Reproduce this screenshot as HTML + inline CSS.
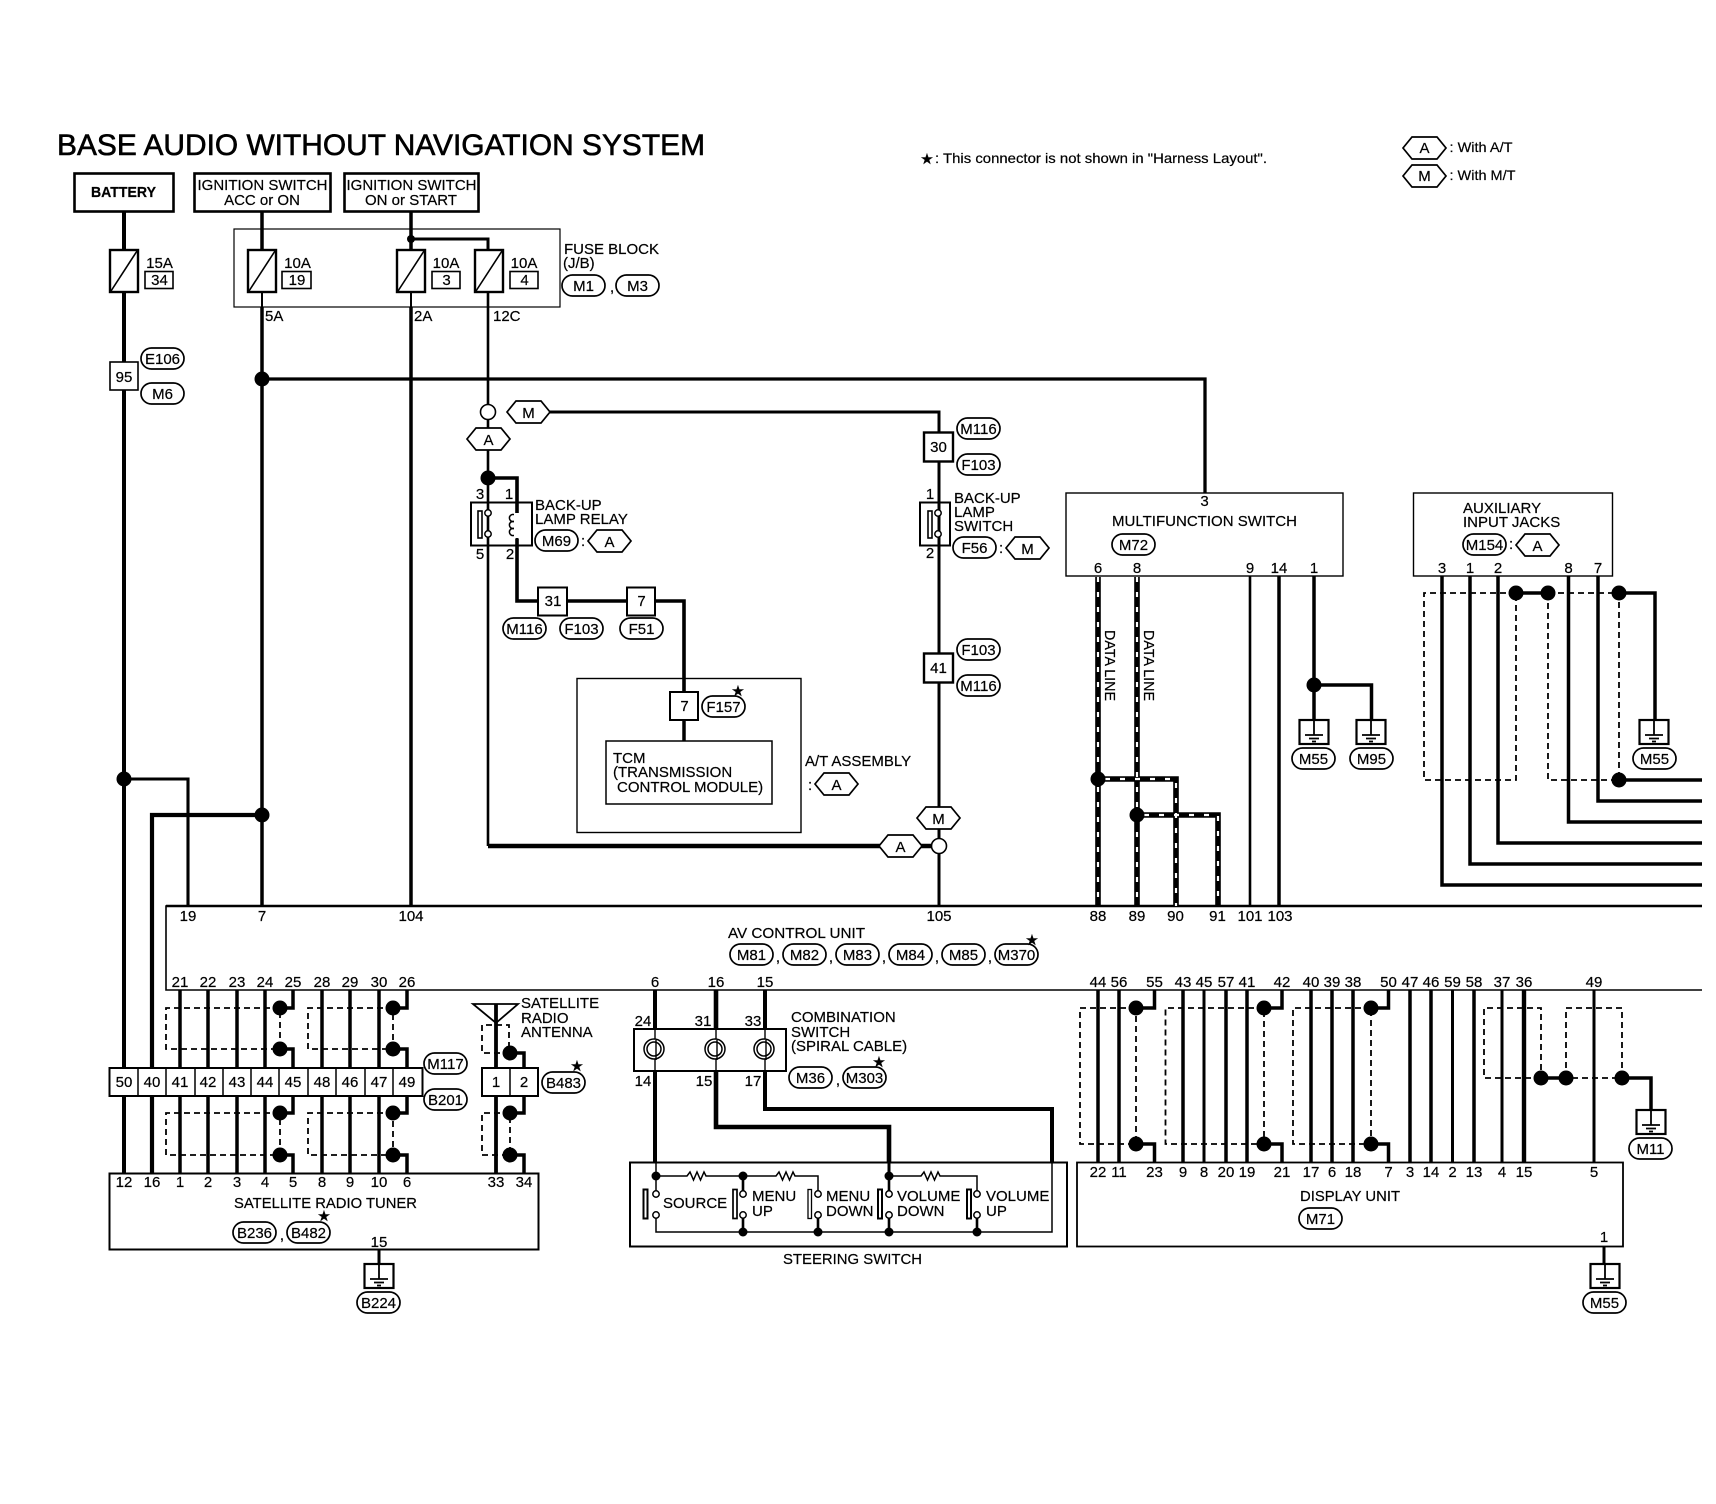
<!DOCTYPE html>
<html><head><meta charset="utf-8"><style>
html,body{margin:0;padding:0;background:#fff}
svg{display:block}
text{font-family:"Liberation Sans",sans-serif;font-size:15px;fill:#000;stroke:#000;stroke-width:.2}
.c text,text.c{text-anchor:middle}
.n{fill:#000;stroke:none}
.o{fill:#fff;stroke:#000;stroke-width:1.6}
.s{fill:none;stroke:#000;stroke-width:1.8;stroke-dasharray:6 4}
</style></head><body>
<svg width="1716" height="1504" viewBox="0 0 1716 1504" xmlns="http://www.w3.org/2000/svg">
<defs>
<rect id="p" width="43" height="21" rx="10.5" fill="#fff" stroke="#000" stroke-width="1.7"/>
<polygon id="h" points="0,11 9,0 34,0 43,11 34,22 9,22" fill="#fff" stroke="#000" stroke-width="1.7"/>
<g id="g"><rect x="-14.5" y="0" width="29" height="24" fill="#fff" stroke="#000" stroke-width="2.2"/><path d="M0 0V15M-9 15H9M-5 18.5H5M-2 21.5H2" fill="none" stroke="#000" stroke-width="1.8"/></g>
<g id="f"><rect width="28" height="42" fill="#fff" stroke="#000" stroke-width="2.4"/><path d="M1 41L27 1" stroke="#000" stroke-width="1.6"/></g>
<circle id="d" r="7.5" fill="#000"/>
<circle id="k" r="3.2" fill="#fff" stroke="#000" stroke-width="1.5"/>
<circle id="e" r="4.5" fill="#000"/>
<g id="sp"><circle r="10" fill="#fff" stroke="#000" stroke-width="1.5"/><circle r="7" fill="none" stroke="#000" stroke-width="1.5"/></g>
</defs>

<!-- boxes -->
<g fill="none" stroke="#000">
<rect x="74.5" y="173.5" width="99" height="38" stroke-width="2.6"/>
<rect x="194.5" y="173.5" width="136" height="38" stroke-width="2.6"/>
<rect x="344.5" y="173.5" width="134" height="38" stroke-width="2.6"/>
<rect x="234" y="229" width="326" height="78" stroke-width="1.2"/>
<rect x="577" y="678.5" width="224" height="154" stroke-width="1.4"/>
<rect x="606" y="741" width="166" height="63" stroke-width="1.5"/>
<rect x="1066" y="493" width="277" height="83" stroke-width="1.4"/>
<rect x="1413.5" y="493" width="199" height="83" stroke-width="1.4"/>
<rect x="109.5" y="1173.5" width="429" height="76" stroke-width="2"/>
<rect x="630" y="1162.5" width="437" height="84" stroke-width="2"/>
<rect x="1077" y="1162.5" width="546" height="84" stroke-width="1.8"/>
<path d="M1702 906H166V990H1702" stroke-width="1.6"/>
<path d="M166 906H1702" stroke-width="2.6"/>
</g>

<!-- main wires -->
<g fill="none" stroke="#000" stroke-width="3.5">
<path d="M124 212V1173" stroke-width="4"/>
<path d="M262 212V250M262 307V906"/>
<path d="M262 292V307M411 292V307" stroke-width="2"/>
<path d="M411 212V250M411 307V906"/>
<path d="M411 239H488V250" stroke-width="3"/>
<path d="M488 292V846" stroke-width="2.6"/>
<path d="M262 379H1205V493" stroke-width="3.3"/>
<path d="M488 478H517V601H538" stroke-width="3.6"/>
<path d="M567 601H627M655 601H684V692" stroke-width="3.6"/>
<path d="M684 720V741"/>
<path d="M488 846H939" stroke-width="4.6"/>
<path d="M507 412H939V905" stroke-width="3"/>
<path d="M124 779H188V906" stroke-width="3.1"/>
<path d="M262 815H152V1173" stroke-width="4.2"/>
<path d="M1250 576V906" stroke-width="2.6"/>
<path d="M1279 576V906"/>
<path d="M1314 576V720"/>
<path d="M1314 685H1371.5V720"/>
<path d="M1442 576V885H1702M1470 576V864H1702M1498 576V843H1702M1568.5 576V822H1702M1598 576V801H1702"/>
<path d="M1619 593H1655V720M1619 780H1702M1516 593H1548"/>

<!-- tuner harness -->
<path d="M180 990V1173M208 990V1173M237 990V1173M265 990V1173M322 990V1173M350 990V1173M379 990V1173"/>
<path d="M293 990V1008H280M280 1049H293V1068M293 1096V1113H280M280 1155H293V1173"/>
<path d="M407 990V1008H393M393 1049H407V1068M407 1096V1113H393M393 1155H407V1173"/>
<path d="M496 1004V1173" stroke-width="3.8"/>
<path d="M510 1053H524V1068M524 1096V1113H510M510 1155H524V1173"/>
<path d="M379 1250V1278" stroke-width="3"/>

<!-- combination -->
<path d="M655 990V1029M655 1071V1162M765 990V1029" stroke-width="4"/>
<path d="M716 990V1029" stroke-width="4.6"/>
<path d="M716 1071V1127H889V1162" stroke-width="4.6"/>
<path d="M765 1071V1109H1052V1162" stroke-width="4"/>
<path d="M655 1029V1071M716 1029V1071M765 1029V1071" stroke-width="1.4"/>

<!-- display -->
<path d="M1098 990V1162M1119 990V1162M1183 990V1162M1226 990V1162M1247 990V1162M1311 990V1162M1332 990V1162M1353 990V1162M1410 990V1162M1431 990V1162M1474 990V1162"/>
<path d="M1204 990V1162M1452.5 990V1162M1502 990V1162M1594 990V1162" stroke-width="3"/>
<path d="M1524 990V1162" stroke-width="4.4"/>
<path d="M1154.5 990V1008H1136M1136 1144H1154.5V1162"/>
<path d="M1282 990V1008H1264M1264 1144H1282V1162"/>
<path d="M1388.5 990V1008H1371M1371 1144H1388.5V1162"/>
<path d="M1541 1078H1566M1622 1078H1651V1109"/>
<path d="M1604 1246V1264" stroke-width="3"/>
</g>

<!-- data lines -->
<g fill="none" stroke="#000" stroke-width="5.6">
<path d="M1098 577V906M1137 577V906M1098 779H1176V906M1137 815H1218V906"/>
</g>
<g fill="none" stroke="#fff" stroke-width="2.2" stroke-dasharray="5 10">
<path d="M1098 577V906M1137 577V906M1105 779H1176V906M1144 815H1218V906"/>
</g>

<!-- shields -->
<g class="s">
<path d="M1516 593H1424V780H1516V593"/>
<path d="M1548 593V780H1619V593H1548"/>
<path d="M280 1008H166V1049H280V1008"/><path d="M393 1008H308V1049H393V1008"/>
<path d="M280 1113H166V1155H280V1113"/><path d="M393 1113H308V1155H393V1113"/>
<path d="M510 1053H482V1025H509V1053"/>
<path d="M510 1113H482V1155H510V1113"/>
<path d="M1136 1008H1080V1144H1136V1008"/>
<path d="M1264 1008H1165.5V1144H1264V1008"/>
<path d="M1371 1008H1293V1144H1371V1008"/>
<path d="M1541 1078H1484V1008H1541V1078"/>
<path d="M1566 1078V1008H1622V1078H1566"/>
</g>

<!-- nodes -->
<g>
<circle cx="411" cy="239" r="4" fill="#000"/>
<use href="#d" x="262" y="379"/><use href="#d" x="488" y="478"/><use href="#d" x="124" y="779"/><use href="#d" x="262" y="815"/>
<use href="#d" x="1098" y="779"/><use href="#d" x="1137" y="815"/><use href="#d" x="1314" y="685"/>
<use href="#d" x="1516" y="593"/><use href="#d" x="1548" y="593"/><use href="#d" x="1619" y="593"/><use href="#d" x="1619" y="780"/>
<use href="#d" x="280" y="1008"/><use href="#d" x="280" y="1049"/><use href="#d" x="280" y="1113"/><use href="#d" x="280" y="1155"/>
<use href="#d" x="393" y="1008"/><use href="#d" x="393" y="1049"/><use href="#d" x="393" y="1113"/><use href="#d" x="393" y="1155"/>
<use href="#d" x="510" y="1053"/><use href="#d" x="510" y="1113"/><use href="#d" x="510" y="1155"/>
<use href="#d" x="1136" y="1008"/><use href="#d" x="1136" y="1144"/><use href="#d" x="1264" y="1008"/><use href="#d" x="1264" y="1144"/><use href="#d" x="1371" y="1008"/><use href="#d" x="1371" y="1144"/>
<use href="#d" x="1541" y="1078"/><use href="#d" x="1566" y="1078"/><use href="#d" x="1622" y="1078"/>
</g>
<ellipse cx="488" cy="412" rx="7.5" ry="7.5" class="o"/>
<ellipse cx="939" cy="846" rx="7.5" ry="7.5" class="o"/>

<!-- fuses -->
<use href="#f" x="110" y="250"/><use href="#f" x="248" y="250"/><use href="#f" x="397" y="250"/><use href="#f" x="475" y="250"/>
<g class="o" stroke-width="1.3">
<rect x="145" y="271.5" width="28" height="17"/><rect x="282" y="271.5" width="29" height="17"/><rect x="432" y="271.5" width="28" height="17"/><rect x="510" y="271.5" width="28" height="17"/>
<rect x="110" y="362" width="28" height="28"/>
<rect x="924" y="432.5" width="29" height="29" style="stroke-width:2.4"/>
<rect x="924" y="653.5" width="29" height="29" style="stroke-width:2.4"/>
<rect x="538" y="587.5" width="29" height="28" style="stroke-width:2"/>
<rect x="627" y="587.5" width="28" height="28" style="stroke-width:2"/>
<rect x="670" y="692" width="28" height="28" style="stroke-width:2"/>
</g>

<!-- relay and lamp switch -->
<g fill="none" stroke="#000" stroke-width="2">
<rect x="471" y="502.5" width="61" height="43" fill="none"/>
<rect x="920" y="502.5" width="30" height="43"/>
<rect x="478" y="511" width="4" height="27" stroke-width="1.6"/>
<rect x="928" y="511" width="4" height="27" stroke-width="1.6"/>
<g stroke-width="1.5"><circle cx="513" cy="518" r="3.6"/><circle cx="513" cy="525" r="3.6"/><circle cx="513" cy="532" r="3.6"/></g>
</g>
<rect x="514" y="513" width="6" height="26" fill="#fff" stroke="none"/>
<path d="M517 500V513M517 538V546" stroke="#000" stroke-width="3" fill="none"/>
<use href="#k" x="488" y="513"/><use href="#k" x="488" y="534"/>
<use href="#k" x="938" y="513"/><use href="#k" x="938" y="534"/>

<!-- connector row -->
<g fill="#fff" stroke="#000" stroke-width="2">
<rect x="109.5" y="1068" width="313" height="28"/>
<rect x="482" y="1068" width="56" height="28"/>
</g>
<path d="M138 1068V1096M166 1068V1096M195 1068V1096M223 1068V1096M251 1068V1096M279 1068V1096M308 1068V1096M336 1068V1096M365 1068V1096M393 1068V1096M510 1068V1096" stroke="#000" stroke-width="1.5"/>

<!-- antenna -->
<path d="M473 1004H518L496 1023Z" fill="none" stroke="#000" stroke-width="1.8"/>

<!-- combination switch -->
<rect x="634" y="1029" width="152" height="42" fill="none" stroke="#000" stroke-width="2"/>
<use href="#sp" x="654" y="1049"/><use href="#sp" x="715" y="1049"/><use href="#sp" x="764" y="1049"/>
<path d="M656 1040V1060M717 1040V1060M766 1040V1060" stroke="#000" stroke-width="1.4"/>

<!-- steering switch -->
<g fill="none" stroke="#000" stroke-width="1.5">
<path d="M656 1162V1191"/>
<path d="M656 1176H687l3-4l3.5 8l3.5-8l3.5 8l3.5-8l2 4H743"/>
<path d="M743 1176H776l3-4l3.5 8l3.5-8l3.5 8l3.5-8l2 4H818V1191"/>
<path d="M889 1176H921l3-4l3.5 8l3.5-8l3.5 8l3.5-8l2 4H977V1191"/>
<path d="M656 1215V1232H1052V1162"/>
<path d="M889 1162V1176" stroke-width="3"/>
<path d="M743 1176V1191M889 1176V1191M743 1218V1232M818 1218V1232M889 1218V1232M977 1218V1232" stroke-width="2.6"/>
<rect x="643.5" y="1189.5" width="4" height="29" stroke-width="2"/>
<rect x="733" y="1189.5" width="4" height="29" stroke-width="1.7"/>
<rect x="808" y="1189.5" width="3.5" height="29" stroke-width="1.3"/>
<rect x="878" y="1189.5" width="4" height="29" stroke-width="2"/>
<rect x="967" y="1189.5" width="4" height="29" stroke-width="2"/>
</g>
<use href="#e" x="656" y="1176"/><use href="#e" x="743" y="1176"/><use href="#e" x="889" y="1176"/>
<use href="#e" x="743" y="1232"/><use href="#e" x="818" y="1232"/><use href="#e" x="889" y="1232"/><use href="#e" x="977" y="1232"/>
<use href="#k" x="656" y="1194"/><use href="#k" x="656" y="1215"/><use href="#k" x="743" y="1194"/><use href="#k" x="743" y="1215"/><use href="#k" x="818" y="1194"/><use href="#k" x="818" y="1215"/><use href="#k" x="889" y="1194"/><use href="#k" x="889" y="1215"/><use href="#k" x="977" y="1194"/><use href="#k" x="977" y="1215"/>

<!-- grounds -->
<use href="#g" x="1314" y="720"/><use href="#g" x="1371" y="720"/><use href="#g" x="1654" y="720"/>
<use href="#g" x="379" y="1264"/><use href="#g" x="1651" y="1110"/><use href="#g" x="1605" y="1264"/>

<!-- pills -->
<use href="#p" x="562" y="275"/><use href="#p" x="616" y="275"/>
<use href="#p" x="141" y="348"/><use href="#p" x="141" y="383"/>
<use href="#p" x="957" y="418"/><use href="#p" x="957" y="454"/>
<use href="#p" x="535" y="530"/><use href="#p" x="953" y="537"/>
<use href="#p" x="1112" y="534"/><use href="#p" x="1463" y="534"/>
<use href="#p" x="503" y="618"/><use href="#p" x="560" y="618"/><use href="#p" x="620" y="618"/>
<use href="#p" x="702" y="696"/>
<use href="#p" x="957" y="639"/><use href="#p" x="957" y="675"/>
<use href="#p" x="1292" y="748"/><use href="#p" x="1350" y="748"/><use href="#p" x="1633" y="748"/>
<use href="#p" x="730" y="944"/><use href="#p" x="783" y="944"/><use href="#p" x="836" y="944"/><use href="#p" x="889" y="944"/><use href="#p" x="942" y="944"/><use href="#p" x="995" y="944"/>
<use href="#p" x="424" y="1053"/><use href="#p" x="424" y="1089"/><use href="#p" x="542" y="1072"/>
<use href="#p" x="233" y="1222"/><use href="#p" x="287" y="1222"/><use href="#p" x="357" y="1292"/>
<use href="#p" x="789" y="1067"/><use href="#p" x="843" y="1067"/>
<use href="#p" x="1299" y="1208"/><use href="#p" x="1629" y="1138"/><use href="#p" x="1583" y="1292"/>

<!-- hexes -->
<use href="#h" x="507" y="401"/><use href="#h" x="467" y="428"/>
<use href="#h" x="588" y="530"/><use href="#h" x="1006" y="537"/><use href="#h" x="1516" y="534"/>
<use href="#h" x="815" y="773"/><use href="#h" x="917" y="807"/><use href="#h" x="879" y="835"/>
<use href="#h" x="1403" y="137"/><use href="#h" x="1403" y="165"/>

<!-- text -->
<text x="57" y="155" style="font-size:30px;stroke-width:.6" textLength="648" lengthAdjust="spacingAndGlyphs">BASE AUDIO WITHOUT NAVIGATION SYSTEM</text>
<text x="927" y="164" class="c" style="font-size:15px;font-family:'DejaVu Sans',sans-serif">★</text>
<text x="935" y="163" style="font-size:14px" textLength="332" lengthAdjust="spacingAndGlyphs">: This connector is not shown in "Harness Layout".</text>
<text x="1449.5" y="152" textLength="63" lengthAdjust="spacingAndGlyphs" style="font-size:14px">: With A/T</text>
<text x="1449.5" y="180" textLength="66" lengthAdjust="spacingAndGlyphs" style="font-size:14px">: With M/T</text>
<g class="c">
<text x="1424.5" y="153">A</text><text x="1424.5" y="181">M</text>
<text x="123.5" y="197" style="font-size:15px;font-weight:bold" textLength="65" lengthAdjust="spacingAndGlyphs">BATTERY</text>
<text x="262.5" y="190">IGNITION SWITCH</text><text x="262" y="205">ACC or ON</text>
<text x="411.5" y="190">IGNITION SWITCH</text><text x="411" y="205">ON or START</text>
<text x="159.5" y="268">15A</text><text x="159.5" y="285">34</text>
<text x="297.5" y="268">10A</text><text x="297" y="285">19</text>
<text x="446" y="268">10A</text><text x="446.5" y="285">3</text>
<text x="524" y="268">10A</text><text x="524.5" y="285">4</text>
<text x="124" y="382">95</text>
<text x="583.5" y="291">M1</text><text x="637.5" y="291">M3</text>
<text x="162.5" y="364">E106</text><text x="162.5" y="399">M6</text>
<text x="528.5" y="418">M</text><text x="488.5" y="445">A</text>
<text x="938.5" y="452">30</text><text x="938.5" y="673">41</text>
<text x="978.5" y="434">M116</text><text x="978.5" y="470">F103</text>
<text x="978.5" y="655">F103</text><text x="978.5" y="691">M116</text>
<text x="556.5" y="546">M69</text><text x="609.5" y="547">A</text>
<text x="974.5" y="553">F56</text><text x="1027.5" y="554">M</text>
<text x="1133.5" y="550">M72</text><text x="1484.5" y="550">M154</text><text x="1537.5" y="551">A</text>
<text x="480" y="499">3</text><text x="509" y="499">1</text><text x="480" y="559">5</text><text x="510" y="559">2</text>
<text x="930" y="499">1</text><text x="930" y="558">2</text>
<text x="553" y="606">31</text><text x="641.5" y="606">7</text><text x="684.5" y="711">7</text>
<text x="524.5" y="634">M116</text><text x="581.5" y="634">F103</text><text x="641.5" y="634">F51</text>
<text x="723.5" y="712">F157</text>
<text x="836.5" y="790">A</text><text x="938.5" y="824">M</text><text x="900.5" y="852">A</text>
<text x="188" y="921">19</text><text x="262" y="921">7</text><text x="411" y="921">104</text><text x="939" y="921">105</text>
<text x="1098" y="921">88</text><text x="1137" y="921">89</text><text x="1175.5" y="921">90</text><text x="1217.5" y="921">91</text><text x="1250" y="921">101</text><text x="1280" y="921">103</text>
<text x="1204.5" y="506">3</text>
<text x="1204.5" y="526" textLength="185" lengthAdjust="spacingAndGlyphs">MULTIFUNCTION SWITCH</text>
<text x="1098" y="573">6</text><text x="1137" y="573">8</text><text x="1250" y="573">9</text><text x="1279" y="573">14</text><text x="1314" y="573">1</text>
<text x="1442" y="573">3</text><text x="1470" y="573">1</text><text x="1498" y="573">2</text><text x="1568.5" y="573">8</text><text x="1598" y="573">7</text>
<text x="1313.5" y="764">M55</text><text x="1371.5" y="764">M95</text><text x="1654.5" y="764">M55</text>
<text x="751.5" y="960">M81</text><text x="804.5" y="960">M82</text><text x="857.5" y="960">M83</text><text x="910.5" y="960">M84</text><text x="963.5" y="960">M85</text><text x="1016.5" y="960">M370</text>
<text x="778" y="962">,</text><text x="831" y="962">,</text><text x="884" y="962">,</text><text x="937" y="962">,</text><text x="990" y="962">,</text>

<text x="180" y="987">21</text><text x="208" y="987">22</text><text x="237" y="987">23</text><text x="265" y="987">24</text><text x="293" y="987">25</text><text x="322" y="987">28</text><text x="350" y="987">29</text><text x="379" y="987">30</text><text x="407" y="987">26</text>
<text x="655" y="987">6</text><text x="716" y="987">16</text><text x="765" y="987">15</text>
<text x="1098" y="987">44</text><text x="1119" y="987">56</text><text x="1154.5" y="987">55</text><text x="1183" y="987">43</text><text x="1204" y="987">45</text><text x="1226" y="987">57</text><text x="1247" y="987">41</text><text x="1282" y="987">42</text><text x="1311" y="987">40</text><text x="1332" y="987">39</text><text x="1353" y="987">38</text><text x="1388.5" y="987">50</text><text x="1410" y="987">47</text><text x="1431" y="987">46</text><text x="1452.5" y="987">59</text><text x="1474" y="987">58</text><text x="1502" y="987">37</text><text x="1524" y="987">36</text><text x="1594" y="987">49</text>

<text x="124" y="1087">50</text><text x="152" y="1087">40</text><text x="180" y="1087">41</text><text x="208" y="1087">42</text><text x="237" y="1087">43</text><text x="265" y="1087">44</text><text x="293" y="1087">45</text><text x="322" y="1087">48</text><text x="350" y="1087">46</text><text x="379" y="1087">47</text><text x="407" y="1087">49</text>
<text x="496" y="1087">1</text><text x="524" y="1087">2</text>
<text x="445.5" y="1069">M117</text><text x="445.5" y="1105">B201</text><text x="563.5" y="1088">B483</text>
<text x="124" y="1187">12</text><text x="152" y="1187">16</text><text x="180" y="1187">1</text><text x="208" y="1187">2</text><text x="237" y="1187">3</text><text x="265" y="1187">4</text><text x="293" y="1187">5</text><text x="322" y="1187">8</text><text x="350" y="1187">9</text><text x="379" y="1187">10</text><text x="407" y="1187">6</text><text x="496" y="1187">33</text><text x="524" y="1187">34</text>
<text x="325.5" y="1208" textLength="183" lengthAdjust="spacingAndGlyphs">SATELLITE RADIO TUNER</text>
<text x="254.5" y="1238">B236</text><text x="308.5" y="1238">B482</text><text x="282" y="1240">,</text>
<text x="379" y="1247">15</text><text x="378.5" y="1308">B224</text>
<text x="643" y="1026">24</text><text x="703" y="1026">31</text><text x="753" y="1026">33</text>
<text x="643" y="1086">14</text><text x="704" y="1086">15</text><text x="753" y="1086">17</text>
<text x="810.5" y="1083">M36</text><text x="864.5" y="1083">M303</text><text x="838" y="1085">,</text>
<text x="852.5" y="1264" textLength="139" lengthAdjust="spacingAndGlyphs">STEERING SWITCH</text>

<text x="1098" y="1177">22</text><text x="1119" y="1177">11</text><text x="1154.5" y="1177">23</text><text x="1183" y="1177">9</text><text x="1204" y="1177">8</text><text x="1226" y="1177">20</text><text x="1247" y="1177">19</text><text x="1282" y="1177">21</text><text x="1311" y="1177">17</text><text x="1332" y="1177">6</text><text x="1353" y="1177">18</text><text x="1388.5" y="1177">7</text><text x="1410" y="1177">3</text><text x="1431" y="1177">14</text><text x="1452.5" y="1177">2</text><text x="1474" y="1177">13</text><text x="1502" y="1177">4</text><text x="1524" y="1177">15</text><text x="1594" y="1177">5</text>
<text x="1350" y="1201" textLength="100" lengthAdjust="spacingAndGlyphs">DISPLAY UNIT</text>
<text x="1320.5" y="1224">M71</text><text x="1650.5" y="1154">M11</text><text x="1604.5" y="1308">M55</text>
<text x="1604" y="1242">1</text>
</g>

<text x="564" y="254">FUSE BLOCK</text><text x="563" y="268">(J/B)</text>
<text x="265" y="321">5A</text><text x="414" y="321">2A</text><text x="493" y="321">12C</text>
<text x="610" y="292">,</text>
<text x="535" y="510">BACK-UP</text><text x="535" y="524">LAMP RELAY</text>
<text x="581" y="546">:</text><text x="999" y="553">:</text>
<text x="954" y="503">BACK-UP</text><text x="954" y="517">LAMP</text><text x="954" y="531">SWITCH</text>
<text x="613" y="763">TCM</text><text x="613" y="777">(TRANSMISSION</text><text x="617" y="792">CONTROL MODULE)</text>
<text x="805" y="766">A/T ASSEMBLY</text><text x="808" y="790">:</text>
<text x="728" y="938" textLength="137" lengthAdjust="spacingAndGlyphs">AV CONTROL UNIT</text>
<text x="1463" y="513">AUXILIARY</text><text x="1463" y="527">INPUT JACKS</text><text x="1509" y="549">:</text>
<text x="521" y="1008">SATELLITE</text><text x="521" y="1023">RADIO</text><text x="521" y="1037">ANTENNA</text>
<text x="791" y="1022">COMBINATION</text><text x="791" y="1037">SWITCH</text><text x="791" y="1051">(SPIRAL CABLE)</text>
<text x="663" y="1208">SOURCE</text>
<text x="752" y="1201">MENU</text><text x="752" y="1216">UP</text>
<text x="826" y="1201">MENU</text><text x="826" y="1216">DOWN</text>
<text x="897" y="1201">VOLUME</text><text x="897" y="1216">DOWN</text>
<text x="986" y="1201">VOLUME</text><text x="986" y="1216">UP</text>
<text transform="translate(1105,630) rotate(90)" textLength="71" lengthAdjust="spacingAndGlyphs">DATA LINE</text>
<text transform="translate(1144,630) rotate(90)" textLength="71" lengthAdjust="spacingAndGlyphs">DATA LINE</text>

<g class="c">
<text x="738" y="696" style="font-size:15px;font-family:'DejaVu Sans',sans-serif">★</text>
<text x="1032" y="945" style="font-size:15px;font-family:'DejaVu Sans',sans-serif">★</text>
<text x="577" y="1071" style="font-size:15px;font-family:'DejaVu Sans',sans-serif">★</text>
<text x="324" y="1221" style="font-size:15px;font-family:'DejaVu Sans',sans-serif">★</text>
<text x="879" y="1067" style="font-size:15px;font-family:'DejaVu Sans',sans-serif">★</text>
</g>
</svg>
</body></html>
